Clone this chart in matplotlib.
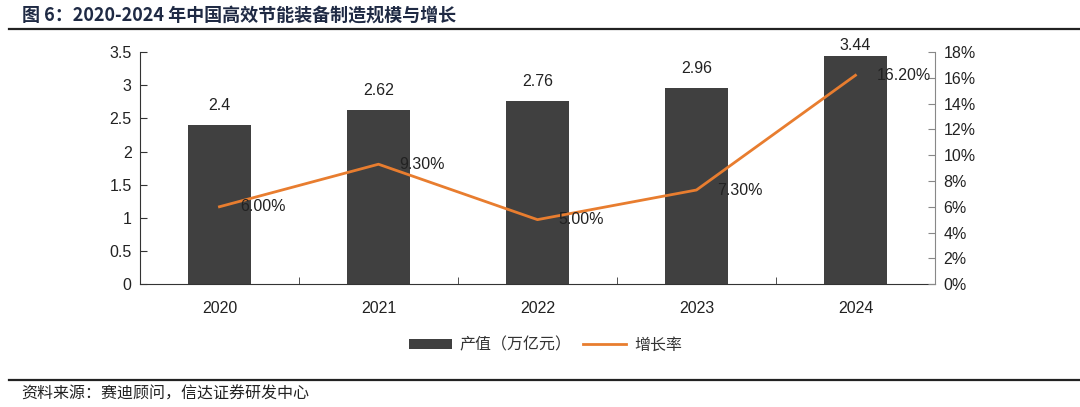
import matplotlib
matplotlib.use("Agg")
import matplotlib.pyplot as plt
from matplotlib.lines import Line2D
from matplotlib.patches import Patch
import numpy as np

years = ["2020", "2021", "2022", "2023", "2024"]
output_value = [2.4, 2.62, 2.76, 2.96, 3.44]
growth_rate = [6.00, 9.30, 5.00, 7.30, 16.20]
left_ticks = [0, 0.5, 1, 1.5, 2, 2.5, 3, 3.5]
left_tick_labels = ["0", "0.5", "1", "1.5", "2", "2.5", "3", "3.5"]
right_ticks = [0, 2, 4, 6, 8, 10, 12, 14, 16, 18]
right_tick_labels = [f"{v}%" for v in right_ticks]

title = "图 6：2020-2024 年中国高效节能装备制造规模与增长"
legend_bar = "产值（万亿元）"
legend_line = "增长率"
source = "资料来源：赛迪顾问，信达证券研发中心"

CJK = ["Noto Sans CJK SC", "DejaVu Sans"]
NUM = ["Liberation Sans", "DejaVu Sans"]
BAR_C = "#404040"
LINE_C = "#E87D2F"
TITLE_C = "#1F2A44"

fig = plt.figure(figsize=(10.8, 4.07), dpi=100)
ax = fig.add_axes([0.1296, 0.302, 0.7361, 0.570])
ax2 = ax.twinx()

x = np.arange(len(years))
ax.bar(x, output_value, width=0.4, color=BAR_C, zorder=2)
for xi, v in zip(x, output_value):
    ax.text(xi, min(v + 0.30, 3.6), f"{v:g}", ha="center", va="center",
            fontsize=11.5, family=NUM, color="#222222")

ax.set_xlim(-0.5, len(years) - 0.5)
ax.set_ylim(0, 3.5)
ax.set_yticks(left_ticks)
ax.set_yticklabels(left_tick_labels, family=NUM, fontsize=11.5, color="#222222")
ax.set_xticks(x)
ax.set_xticklabels(years, family=NUM, fontsize=11.5, color="#222222")
ax.tick_params(axis="x", which="major", length=0, pad=12)
ax.set_xticks(np.arange(-0.5, len(years)), minor=True)
ax.tick_params(axis="x", which="minor", length=5, direction="in", color="#333333")
ax.tick_params(axis="y", length=5, direction="in", color="#333333", pad=6)

ax2.plot(x, growth_rate, color=LINE_C, lw=2.0, zorder=3)
for xi, v in zip(x, growth_rate):
    ax2.annotate(f"{v:.2f}%", (xi, v), xytext=(15, 0), textcoords="offset points",
                 ha="left", va="center", fontsize=11.5, family=NUM, color="#222222")
ax2.set_ylim(0, 18)
ax2.set_yticks(right_ticks)
ax2.set_yticklabels(right_tick_labels, family=NUM, fontsize=11.5, color="#222222")
ax2.tick_params(axis="y", length=5, direction="in", color="#888888", pad=6)

for a in (ax, ax2):
    a.spines["top"].set_visible(False)
ax.spines["left"].set_color("#333333")
ax.spines["bottom"].set_color("#333333")
ax.spines["right"].set_visible(False)
ax2.spines["left"].set_visible(False)
ax2.spines["bottom"].set_visible(False)
ax2.spines["right"].set_color("#888888")
ax.set_zorder(1)
ax2.set_zorder(2)
ax.patch.set_visible(False)

handles = [Patch(facecolor=BAR_C, edgecolor="none"),
           Line2D([0], [0], color=LINE_C, lw=2.0)]
leg = fig.legend(handles, [legend_bar, legend_line], loc="center",
                 bbox_to_anchor=(0.505, 0.152), ncol=2, frameon=False,
                 prop={"family": CJK, "size": 11.5}, handlelength=2.7,
                 handleheight=0.6, columnspacing=0.7, handletextpad=0.5)
for t in leg.get_texts():
    t.set_color("#333333")

fig.text(0.02, 0.962, title, family=CJK, fontsize=13, fontweight="bold",
         color=TITLE_C, ha="left", va="center")
fig.add_artist(Line2D([0.008, 1.0], [0.928, 0.928], color="#222222", lw=1.6))
fig.add_artist(Line2D([0.008, 1.0], [0.066, 0.066], color="#222222", lw=1.6))
fig.text(0.02, 0.032, source, family=CJK, fontsize=11.5, style="italic",
         color="#222222", ha="left", va="center")

fig.savefig("out.png", dpi=100, facecolor="white")
